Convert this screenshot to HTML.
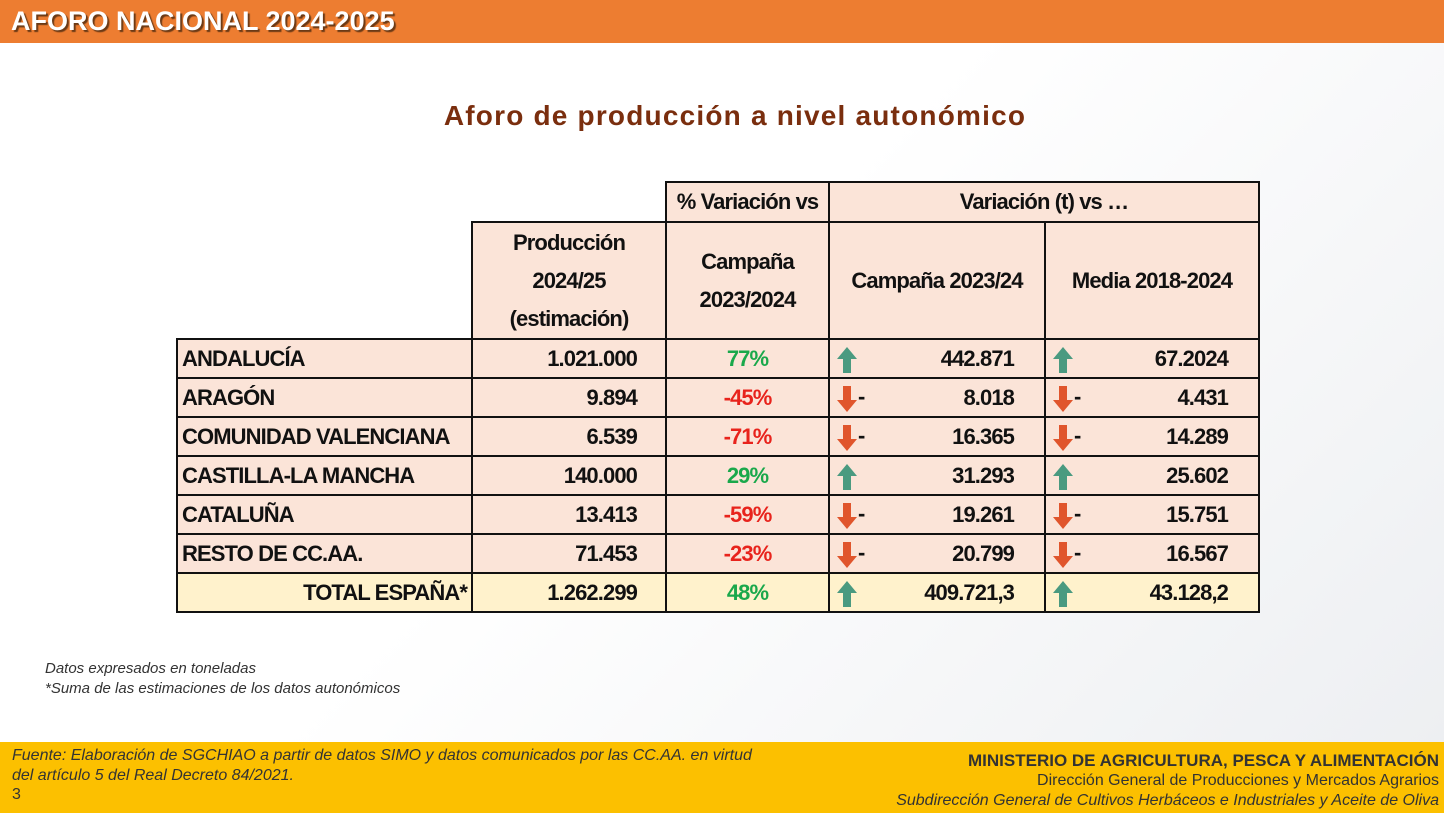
<!DOCTYPE html>
<html><head><meta charset="utf-8"><style>
*{margin:0;padding:0;box-sizing:border-box}
body{width:1444px;height:813px;position:relative;overflow:hidden;background:linear-gradient(135deg,#ffffff 0%,#ffffff 45%,#eceef1 100%);font-family:"Liberation Sans",sans-serif}
.top{position:absolute;left:0;top:0;width:1444px;height:43px;background:#ed7d31}
.top span{position:absolute;left:11px;top:6px;color:#fff;font-weight:bold;font-size:27px;text-shadow:2px 2px 1px #6b3a16}
.title{position:absolute;left:0;width:1470px;top:100px;text-align:center;font-weight:bold;font-size:28px;color:#7a2e0e;letter-spacing:1.2px}
.c{position:absolute;border:2px solid #111;background:#fbe4d8;font-family:"Liberation Sans",sans-serif;font-weight:bold;font-size:22px;letter-spacing:-0.9px;color:#111;display:flex;align-items:center;white-space:nowrap;overflow:hidden}
.n{justify-content:flex-end;padding-right:28px}
.ctr{justify-content:center;text-align:center;line-height:38px}
.l{padding-left:4px}
.g{color:#1aa84b}.r{color:#e8231c}
.t{background:#fff2cc}
.ar{position:absolute;left:6px;top:6px}
.dash{position:absolute;left:28px;top:5px}
.note{position:absolute;left:45px;font-style:italic;font-size:15px;color:#333}
.bot{position:absolute;left:0;top:742px;width:1444px;height:71px;background:#fcc000}
.fl{position:absolute;left:12px;font-style:italic;font-size:16px;color:#333}
.fr{position:absolute;right:5px;text-align:right;font-size:16px;color:#333}
</style></head><body>
<div class="top"><span>AFORO NACIONAL 2024-2025</span></div>
<div class="title">Aforo de producción a nivel autonómico</div>

<div class="c ctr" style="left:665px;top:181px;width:165px;height:42px">% Variación vs</div>
<div class="c ctr" style="left:828px;top:181px;width:432px;height:42px">Variación (t) vs …</div>
<div class="c ctr" style="left:471px;top:221px;width:196px;height:119px">Producción<br>2024/25<br>(estimación)</div>
<div class="c ctr" style="left:665px;top:221px;width:165px;height:119px">Campaña<br>2023/2024</div>
<div class="c ctr" style="left:828px;top:221px;width:218px;height:119px">Campaña 2023/24</div>
<div class="c ctr" style="left:1044px;top:221px;width:216px;height:119px">Media 2018-2024</div>

<svg width="0" height="0" style="position:absolute"><defs>
<symbol id="up" viewBox="0 0 22 28"><path d="M11 1 L21 13 L15 13 L15 27 L7 27 L7 13 L1 13 Z" fill="#4a9a80"/></symbol>
<symbol id="dn" viewBox="0 0 22 28"><path d="M11 27 L21 15 L15 15 L15 1 L7 1 L7 15 L1 15 Z" fill="#e0552c"/></symbol>
</defs></svg>

<div id="rows"></div>
<script>
var d=[["ANDALUCÍA","1.021.000","77%",1,"442.871","67.2024"],
["ARAGÓN","9.894","-45%",0,"8.018","4.431"],
["COMUNIDAD VALENCIANA","6.539","-71%",0,"16.365","14.289"],
["CASTILLA-LA MANCHA","140.000","29%",1,"31.293","25.602"],
["CATALUÑA","13.413","-59%",0,"19.261","15.751"],
["RESTO DE CC.AA.","71.453","-23%",0,"20.799","16.567"],
["TOTAL ESPAÑA*","1.262.299","48%",1,"409.721,3","43.128,2"]];
var h="";
d.forEach(function(r,i){var y=338+i*39,t=i==6?" t":"";
var ar=r[3]?'<svg class="ar" width="22" height="28"><use href="#up"/></svg>':'<svg class="ar" width="22" height="28"><use href="#dn"/></svg><span class="dash">-</span>';
h+='<div class="c'+t+(i==6?' n':' l')+'" style="left:176px;top:'+y+'px;width:297px;height:41px;'+(i==6?'padding-right:4px':'')+'">'+r[0]+'</div>';
h+='<div class="c n'+t+'" style="left:471px;top:'+y+'px;width:196px;height:41px">'+r[1]+'</div>';
h+='<div class="c ctr'+t+' '+(r[3]?'g':'r')+'" style="left:665px;top:'+y+'px;width:165px;height:41px">'+r[2]+'</div>';
h+='<div class="c n'+t+'" style="left:828px;top:'+y+'px;width:218px;height:41px;padding-right:30px">'+ar+r[4]+'</div>';
h+='<div class="c n'+t+'" style="left:1044px;top:'+y+'px;width:216px;height:41px;padding-right:30px">'+ar+r[5]+'</div>';});
document.getElementById("rows").innerHTML=h;
</script>

<div class="note" style="top:660px">Datos expresados en toneladas</div>
<div class="note" style="top:680px">*Suma de las estimaciones de los datos autonómicos</div>

<div class="bot">
<div class="fl" style="top:5px">Fuente: Elaboración de SGCHIAO a partir de datos SIMO y datos comunicados por las CC.AA. en virtud</div>
<div class="fl" style="top:25px">del artículo 5 del Real Decreto 84/2021.</div>
<div class="fl" style="top:44px;font-style:normal">3</div>
<div class="fr" style="top:9px;font-weight:bold;font-size:17px;color:#333">MINISTERIO DE AGRICULTURA, PESCA Y ALIMENTACIÓN</div>
<div class="fr" style="top:30px">Dirección General de Producciones y Mercados Agrarios</div>
<div class="fr" style="top:50px;font-style:italic">Subdirección General de Cultivos Herbáceos e Industriales y Aceite de Oliva</div>
</div>
</body></html>
